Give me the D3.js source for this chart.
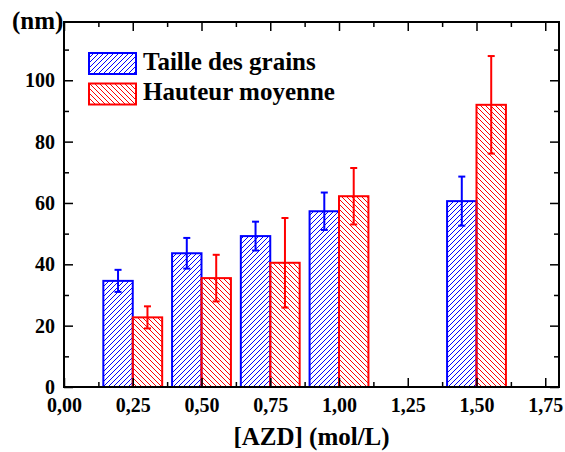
<!DOCTYPE html>
<html>
<head>
<meta charset="utf-8">
<script src="https://cdn.jsdelivr.net/npm/d3@7"></script>
<style>
	body { margin: 0; background: #fff; }
</style>
</head>
<body>
<div id="chart"></div>
<script>
const width = 565;
const height = 452;
const FONT = '"Liberation Serif"';

// AZD concentrations (mol/L)
const concentrations = [0.25, 0.5, 0.75, 1.0, 1.5];
const seriesNames = ["Taille des grains", "Hauteur moyenne"];
// grain size and mean height (nm), with their error bars
const grainSize = [34.6, 43.6, 49.2, 57.3, 60.6];
const grainSizeErr = [3.6, 5.0, 4.7, 6.1, 8.0];
const meanHeight = [22.7, 35.5, 40.5, 62.2, 92.0];
const meanHeightErr = [3.6, 7.6, 14.6, 9.2, 15.9];
const xTicks = [0, 0.25, 0.5, 0.75, 1.0, 1.25, 1.5, 1.75];
const yTicks = [0, 20, 40, 60, 80, 100];
const barWidth = 0.107;

const margin = { top: 22, right: 6, bottom: 65, left: 64 };

const x = d3.scaleLinear().domain([0, 1.8]).range([margin.left, width - margin.right]);
const y = d3.scaleLinear().domain([0, 119]).range([height - margin.bottom, margin.top]);

const svg = d3
	.select("#chart")
	.append("svg")
	.attr("width", width)
	.attr("height", height);

const defs = svg.append("defs");
function addHatch(id, color, forward) {
	defs.append("pattern")
		.attr("id", id)
		.attr("patternUnits", "userSpaceOnUse")
		.attr("width", 5)
		.attr("height", 5)
		.append("path")
		.attr("d", forward ? "M0,5 L5,0 M-1,1 L1,-1 M4,6 L6,4" : "M0,0 L5,5 M-1,4 L1,6 M4,-1 L6,1")
		.attr("stroke", color)
		.attr("stroke-width", 1)
		.attr("fill", "none");
}
addHatch("hatchBlue", "#0000ff", true);
addHatch("hatchRed", "#ff0000", false);

const series = [
	{ name: seriesNames[0], values: grainSize, errors: grainSizeErr, color: "#0000ff", fill: "url(#hatchBlue)", offset: -1 },
	{ name: seriesNames[1], values: meanHeight, errors: meanHeightErr, color: "#ff0000", fill: "url(#hatchRed)", offset: 0 },
];

// bars
series.forEach((s) => {
	const g = svg.append("g");
	const rows = concentrations.map((c, i) => ({ c: c, v: s.values[i], e: s.errors[i] }));
	g.selectAll("rect")
		.data(rows)
		.enter()
		.append("rect")
		.attr("x", (d) => x(d.c + s.offset * barWidth))
		.attr("y", (d) => y(d.v))
		.attr("width", x(barWidth) - x(0))
		.attr("height", (d) => y(0) - y(d.v))
		.attr("fill", s.fill)
		.attr("stroke", s.color)
		.attr("stroke-width", 2);
	const cx = (d) => x(d.c + (s.offset + 0.5) * barWidth);
	const err = g.selectAll(".err").data(rows).enter().append("g").attr("stroke", s.color).attr("stroke-width", 2);
	err.append("line")
		.attr("x1", cx)
		.attr("x2", cx)
		.attr("y1", (d) => y(d.v - d.e))
		.attr("y2", (d) => y(d.v + d.e));
	err.append("line")
		.attr("x1", (d) => cx(d) - 3.5)
		.attr("x2", (d) => cx(d) + 3.5)
		.attr("y1", (d) => y(d.v + d.e))
		.attr("y2", (d) => y(d.v + d.e));
	err.append("line")
		.attr("x1", (d) => cx(d) - 3.5)
		.attr("x2", (d) => cx(d) + 3.5)
		.attr("y1", (d) => y(d.v - d.e))
		.attr("y2", (d) => y(d.v - d.e));
});

// axes, ticks pointing inward, mirrored on top and right
const xMinor = d3.range(0.125, 1.8, 0.25);
const yMinor = d3.range(10, 119, 20);
function drawAxis(axis, transform, labels) {
	const g = svg.append("g").attr("transform", transform).call(axis);
	g.select(".domain").remove();
	g.selectAll(".tick line").attr("stroke", "#000").attr("stroke-width", 1.5);
	g.selectAll("text")
		.attr("fill", "#000")
		.style("font-family", FONT)
		.style("font-weight", "bold")
		.style("font-size", "20px");
	if (!labels) g.selectAll("text").remove();
	return g;
}
const fmtX = (d) => d3.format(".2f")(d).replace(".", ",");
drawAxis(d3.axisBottom(x).tickValues(xTicks).tickSize(-9).tickPadding(11).tickFormat(fmtX), `translate(0,${y(0)})`, true);
drawAxis(d3.axisBottom(x).tickValues(xMinor).tickSize(-5), `translate(0,${y(0)})`, false);
drawAxis(d3.axisTop(x).tickValues(xTicks).tickSize(-9), `translate(0,${margin.top})`, false);
drawAxis(d3.axisTop(x).tickValues(xMinor).tickSize(-5), `translate(0,${margin.top})`, false);
drawAxis(d3.axisLeft(y).tickValues(yTicks).tickSize(-9).tickPadding(9), `translate(${margin.left},0)`, true);
drawAxis(d3.axisLeft(y).tickValues(yMinor).tickSize(-5), `translate(${margin.left},0)`, false);
drawAxis(d3.axisRight(y).tickValues(yTicks).tickSize(-9), `translate(${width - margin.right},0)`, false);
drawAxis(d3.axisRight(y).tickValues(yMinor).tickSize(-5), `translate(${width - margin.right},0)`, false);

svg.append("rect")
	.attr("x", margin.left)
	.attr("y", margin.top)
	.attr("width", width - margin.right - margin.left)
	.attr("height", y(0) - margin.top)
	.attr("fill", "none")
	.attr("stroke", "#000")
	.attr("stroke-width", 2);

function label(sel) {
	return sel.style("font-family", FONT).style("font-weight", "bold").style("font-size", "25px").attr("fill", "#000");
}

// axis titles
label(svg.append("text").attr("x", 12).attr("y", 29).text("(nm)"));
label(
	svg.append("text")
		.attr("x", (margin.left + width - margin.right) / 2)
		.attr("y", 445)
		.attr("text-anchor", "middle")
		.text("[AZD] (mol/L)")
);

// legend
const legend = svg.append("g").attr("transform", "translate(89,53)");
series.forEach((s, i) => {
	legend.append("rect")
		.attr("x", 0)
		.attr("y", i * 30.5)
		.attr("width", 47)
		.attr("height", 21)
		.attr("fill", s.fill)
		.attr("stroke", s.color)
		.attr("stroke-width", 2);
	label(legend.append("text").attr("x", 54).attr("y", i * 30.5 + 16.5).text(s.name));
});
</script>
</body>
</html>
